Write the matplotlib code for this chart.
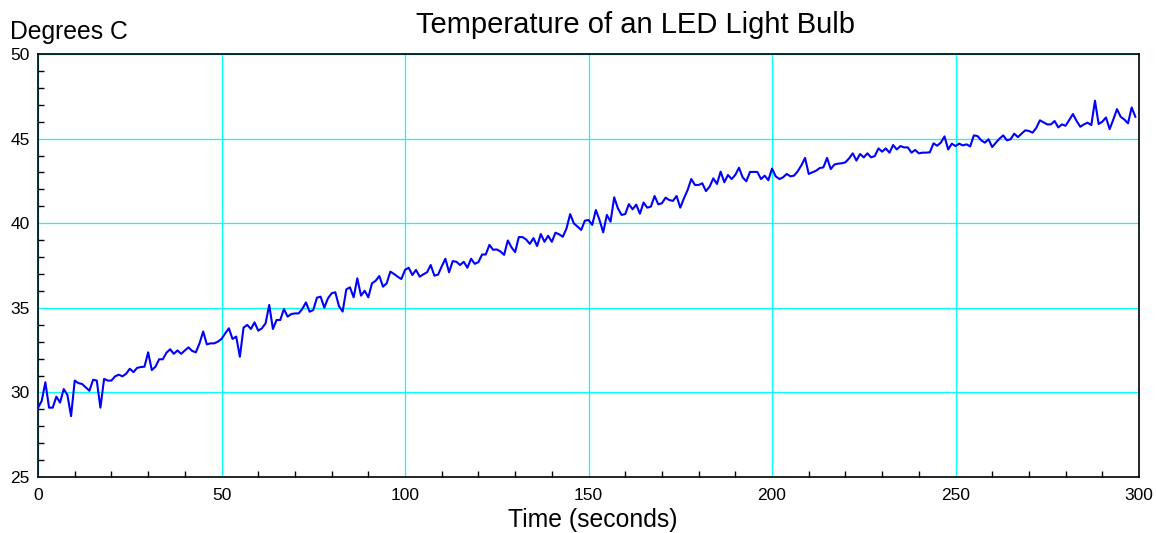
import numpy as np
import matplotlib
matplotlib.use("Agg")
import matplotlib.pyplot as plt
from matplotlib.ticker import MultipleLocator

plt.rcParams['font.family'] = ['Liberation Sans', 'DejaVu Sans']

# one reading per second
seconds = np.arange(300)
temps_c = [
    29.1, 29.5, 30.6, 29.1, 29.1, 29.75, 29.4, 30.2, 29.85, 28.6,
    30.7, 30.55, 30.5, 30.3, 30.1, 30.75, 30.7, 29.1, 30.8, 30.7,
    30.7, 30.95, 31.05, 30.95, 31.1, 31.4, 31.2, 31.45, 31.5, 31.52,
    32.37, 31.32, 31.52, 31.96, 31.96, 32.35, 32.55, 32.28, 32.48, 32.28,
    32.48, 32.66, 32.45, 32.37, 32.9, 33.6, 32.84, 32.9, 32.9, 33.0,
    33.16, 33.49, 33.79, 33.16, 33.3, 32.11, 33.83, 33.99, 33.75, 34.14,
    33.65, 33.79, 34.08, 35.17, 33.75, 34.28, 34.28, 34.93, 34.48, 34.63,
    34.67, 34.67, 34.93, 35.32, 34.77, 34.87, 35.6, 35.66, 35.01, 35.56,
    35.86, 35.92, 35.1, 34.78, 36.09, 36.21, 35.62, 36.74, 35.72, 36.01,
    35.62, 36.45, 36.6, 36.88, 36.25, 36.45, 37.14, 37.0, 36.84, 36.7,
    37.24, 37.37, 36.94, 37.24, 36.84, 36.98, 37.1, 37.53, 36.9, 36.96,
    37.45, 37.9, 37.1, 37.76, 37.72, 37.53, 37.72, 37.37, 37.9, 37.6,
    37.7, 38.15, 38.15, 38.72, 38.43, 38.45, 38.33, 38.13, 38.98, 38.58,
    38.29, 39.18, 39.18, 39.04, 38.78, 39.12, 38.65, 39.36, 38.9, 39.26,
    38.9, 39.44, 39.34, 39.2, 39.69, 40.54, 39.99, 39.8, 39.6, 40.15,
    40.19, 39.9, 40.78, 40.19, 39.46, 40.49, 40.09, 41.53, 40.88, 40.49,
    40.54, 41.13, 40.82, 41.1, 40.56, 41.22, 40.92, 40.98, 41.61, 41.12,
    41.18, 41.51, 41.37, 41.32, 41.61, 40.92, 41.47, 41.96, 42.61, 42.26,
    42.26, 42.36, 41.9, 42.16, 42.65, 42.32, 43.05, 42.42, 42.85, 42.61,
    42.86, 43.28, 42.71, 42.48, 43.03, 43.03, 43.03, 42.61, 42.81, 42.54,
    43.23, 42.77, 42.61, 42.71, 42.91, 42.77, 42.81, 43.07, 43.42, 43.86,
    42.91, 43.01, 43.1, 43.26, 43.3, 43.86, 43.2, 43.47, 43.52, 43.54,
    43.6, 43.83, 44.13, 43.7, 44.09, 43.89, 44.13, 43.89, 43.97, 44.42,
    44.23, 44.42, 44.17, 44.62, 44.36, 44.56, 44.48, 44.48, 44.17, 44.33,
    44.13, 44.17, 44.17, 44.19, 44.72, 44.58, 44.76, 45.13, 44.36, 44.7,
    44.56, 44.7, 44.6, 44.66, 44.54, 45.19, 45.15, 44.9, 44.76, 44.96,
    44.5, 44.76, 45.0, 45.19, 44.9, 44.96, 45.29, 45.09, 45.29, 45.49,
    45.45, 45.35, 45.63, 46.08, 45.96, 45.84, 45.84, 46.04, 45.66, 45.84,
    45.76, 46.1, 46.45, 46.04, 45.7, 45.84, 45.94, 45.8, 47.24, 45.86,
    46.0, 46.25, 45.56, 46.13, 46.74, 46.29, 46.13, 45.9, 46.84, 46.29,
]

x_ticks = [0, 50, 100, 150, 200, 250, 300]
y_ticks = [25, 30, 35, 40, 45, 50]

fig = plt.figure(figsize=(11.56, 5.33), dpi=100)
ax = fig.add_axes([0.0329, 0.105, 0.9524, 0.7937])

ax.plot(seconds, temps_c, color='#0000ff', linewidth=1.5, zorder=3)

ax.set_xlim(0, 300)
ax.set_ylim(25, 50)
ax.set_xticks(x_ticks)
ax.set_yticks(y_ticks)
ax.xaxis.set_minor_locator(MultipleLocator(10))
ax.yaxis.set_minor_locator(MultipleLocator(1))
ax.grid(True, which='major', color='#00ffff', linewidth=0.9)
ax.tick_params(which='minor', direction='in', length=4, width=1)
ax.tick_params(which='major', length=0, labelsize=12.5)
ax.tick_params(axis='x', which='major', pad=8)
ax.tick_params(axis='y', which='major', pad=6)
for s in ax.spines.values():
    s.set_linewidth(1.2)

fig.text(0.55, 0.953, 'Temperature of an LED Light Bulb', ha='center', va='center', fontsize=21)
fig.text(0.009, 0.94, 'Degrees C', ha='left', va='center', fontsize=17.8)
fig.text(0.513, 0.024, 'Time (seconds)', ha='center', va='center', fontsize=17.8)

fig.savefig('out.png', dpi=100)
